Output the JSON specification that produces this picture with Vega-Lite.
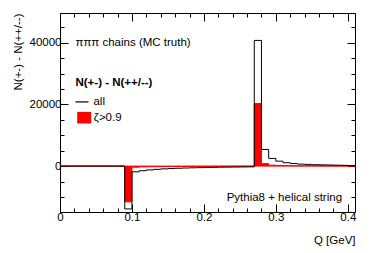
{
  "$schema": "https://vega.github.io/schema/vega-lite/v6.json",
  "width": 295,
  "height": 199,
  "autosize": {"type": "none"},
  "padding": {"left": 60, "top": 13, "right": 19, "bottom": 41},
  "background": "white",
  "config": {
    "view": {"stroke": "black", "strokeWidth": 1},
    "axis": {"grid": false, "domain": false, "tickColor": "black", "tickWidth": 1, "labelFont": "Liberation Sans", "labelFontSize": 11.5, "labelColor": "black", "titleFont": "Liberation Sans", "titleFontSize": 11.5, "titleFontWeight": "normal", "titleColor": "black", "labelOverlap": false, "labelFlush": false},
    "text": {"font": "Liberation Sans", "fontSize": 11.5, "color": "black"}
  },
  "datasets": {
    "hist": [
      {"q": 0.00, "all": 0, "zeta": 0},
      {"q": 0.01, "all": 0, "zeta": 0},
      {"q": 0.02, "all": 0, "zeta": 0},
      {"q": 0.03, "all": 0, "zeta": 0},
      {"q": 0.04, "all": 0, "zeta": 0},
      {"q": 0.05, "all": 0, "zeta": 0},
      {"q": 0.06, "all": 0, "zeta": 0},
      {"q": 0.07, "all": 0, "zeta": 0},
      {"q": 0.08, "all": 0, "zeta": 0},
      {"q": 0.09, "all": -13900, "zeta": -11600},
      {"q": 0.10, "all": -1850, "zeta": -350},
      {"q": 0.11, "all": -1500, "zeta": -250},
      {"q": 0.12, "all": -1250, "zeta": -200},
      {"q": 0.13, "all": -1050, "zeta": -170},
      {"q": 0.14, "all": -900, "zeta": -150},
      {"q": 0.15, "all": -800, "zeta": -130},
      {"q": 0.16, "all": -700, "zeta": -110},
      {"q": 0.17, "all": -620, "zeta": -100},
      {"q": 0.18, "all": -550, "zeta": -90},
      {"q": 0.19, "all": -490, "zeta": -80},
      {"q": 0.20, "all": -440, "zeta": -70},
      {"q": 0.21, "all": -400, "zeta": -60},
      {"q": 0.22, "all": -360, "zeta": -55},
      {"q": 0.23, "all": -330, "zeta": -50},
      {"q": 0.24, "all": -300, "zeta": -45},
      {"q": 0.25, "all": -270, "zeta": -40},
      {"q": 0.26, "all": -250, "zeta": -35},
      {"q": 0.27, "all": 40800, "zeta": 20300},
      {"q": 0.28, "all": 5400, "zeta": 800},
      {"q": 0.29, "all": 2500, "zeta": 300},
      {"q": 0.30, "all": 1600, "zeta": 200},
      {"q": 0.31, "all": 1100, "zeta": 160},
      {"q": 0.32, "all": 850, "zeta": 140},
      {"q": 0.33, "all": 650, "zeta": 120},
      {"q": 0.34, "all": 550, "zeta": 110},
      {"q": 0.35, "all": 450, "zeta": 100},
      {"q": 0.36, "all": 400, "zeta": 90},
      {"q": 0.37, "all": 350, "zeta": 80},
      {"q": 0.38, "all": 300, "zeta": 75},
      {"q": 0.39, "all": 250, "zeta": 70},
      {"q": 0.40, "all": 200, "zeta": 65},
      {"q": 0.41, "all": 200, "zeta": 65}
    ]
  },
  "resolve": {"axis": {"x": "independent", "y": "independent"}},
  "layer": [
    {
      "data": {"name": "hist"},
      "mark": {"type": "area", "interpolate": "step-after", "color": "#ff0000", "stroke": "#ff0000", "strokeWidth": 1, "opacity": 1},
      "encoding": {
        "x": {"field": "q", "type": "quantitative", "scale": {"domain": [0, 0.41], "nice": false, "zero": false},
          "axis": {"orient": "bottom", "values": [0,0.02,0.04,0.06,0.08,0.1,0.12,0.14,0.16,0.18,0.2,0.22,0.24,0.26,0.28,0.3,0.32,0.34,0.36,0.38,0.4],
            "tickSize": {"condition": {"test": "abs(datum.value*10 - round(datum.value*10)) < 0.001", "value": -8}, "value": -4},
            "labelExpr": "abs(datum.value*10 - round(datum.value*10)) < 0.001 ? format(datum.value, '.1~f') : ''",
            "labelPadding": 7.5, "title": "Q [GeV]", "titleAnchor": null, "titleX": 295, "titleY": 28, "titleAlign": "right", "titleBaseline": "middle"}},
        "y": {"field": "zeta", "type": "quantitative", "stack": null, "scale": {"domain": [-14900, 49700], "nice": false, "zero": false},
          "axis": {"orient": "left", "values": [-10000,-5000,0,5000,10000,15000,20000,25000,30000,35000,40000,45000],
            "tickSize": {"condition": {"test": "datum.value % 20000 == 0", "value": -8}, "value": -4},
            "labelExpr": "datum.value % 20000 == 0 ? format(datum.value, 'd') : ''",
            "labelPadding": 7, "title": "N(+-) - N(++/--)", "titleX": -42, "titleY": 0, "titleAngle": -90, "titleAlign": "right", "titleBaseline": "middle"}}
      }
    },
    {
      "data": {"name": "hist"},
      "mark": {"type": "line", "interpolate": "step-after", "color": "black", "strokeWidth": 1},
      "encoding": {
        "x": {"field": "q", "type": "quantitative", "scale": {"domain": [0, 0.41], "nice": false, "zero": false},
          "axis": {"orient": "top", "values": [0,0.02,0.04,0.06,0.08,0.1,0.12,0.14,0.16,0.18,0.2,0.22,0.24,0.26,0.28,0.3,0.32,0.34,0.36,0.38,0.4],
            "tickSize": {"condition": {"test": "abs(datum.value*10 - round(datum.value*10)) < 0.001", "value": -8}, "value": -4},
            "labels": false, "title": null}},
        "y": {"field": "all", "type": "quantitative", "scale": {"domain": [-14900, 49700], "nice": false, "zero": false},
          "axis": {"orient": "right", "values": [-10000,-5000,0,5000,10000,15000,20000,25000,30000,35000,40000,45000],
            "tickSize": {"condition": {"test": "datum.value % 20000 == 0", "value": -8}, "value": -4},
            "labels": false, "title": null}}
      }
    },
    {
      "data": {"values": [
        {"x": 0.0215, "y": 40000, "t": "πππ chains (MC truth)"},
        {"x": 0.0465, "y": 20700, "t": "all"},
        {"x": 0.047, "y": 15500, "t": "ζ>0.9"}
      ]},
      "mark": {"type": "text", "align": "left", "baseline": "middle"},
      "encoding": {
        "x": {"field": "x", "type": "quantitative", "scale": {"domain": [0, 0.41], "nice": false, "zero": false}, "axis": null},
        "y": {"field": "y", "type": "quantitative", "scale": {"domain": [-14900, 49700], "nice": false, "zero": false}, "axis": null},
        "text": {"field": "t"}
      }
    },
    {
      "data": {"values": [{"x": 0.0215, "y": 26900, "t": "N(+-) - N(++/--)"}]},
      "mark": {"type": "text", "align": "left", "baseline": "middle", "fontWeight": "bold"},
      "encoding": {
        "x": {"field": "x", "type": "quantitative", "scale": {"domain": [0, 0.41], "nice": false, "zero": false}, "axis": null},
        "y": {"field": "y", "type": "quantitative", "scale": {"domain": [-14900, 49700], "nice": false, "zero": false}, "axis": null},
        "text": {"field": "t"}
      }
    },
    {
      "data": {"values": [{"x": 0.392, "y": -10400, "t": "Pythia8 + helical string"}]},
      "mark": {"type": "text", "align": "right", "baseline": "middle"},
      "encoding": {
        "x": {"field": "x", "type": "quantitative", "scale": {"domain": [0, 0.41], "nice": false, "zero": false}, "axis": null},
        "y": {"field": "y", "type": "quantitative", "scale": {"domain": [-14900, 49700], "nice": false, "zero": false}, "axis": null},
        "text": {"field": "t"}
      }
    },
    {
      "data": {"values": [{"x": 0.0215, "x2": 0.0396, "y": 20840}]},
      "mark": {"type": "rule", "color": "black", "strokeWidth": 1.2},
      "encoding": {
        "x": {"field": "x", "type": "quantitative", "scale": {"domain": [0, 0.41], "nice": false, "zero": false}, "axis": null},
        "x2": {"field": "x2"},
        "y": {"field": "y", "type": "quantitative", "scale": {"domain": [-14900, 49700], "nice": false, "zero": false}, "axis": null}
      }
    },
    {
      "data": {"values": [{"x": 0.0239, "x2": 0.0433, "y": 17600, "y2": 13840}]},
      "mark": {"type": "rect", "color": "#ff0000"},
      "encoding": {
        "x": {"field": "x", "type": "quantitative", "scale": {"domain": [0, 0.41], "nice": false, "zero": false}, "axis": null},
        "x2": {"field": "x2"},
        "y": {"field": "y", "type": "quantitative", "scale": {"domain": [-14900, 49700], "nice": false, "zero": false}, "axis": null},
        "y2": {"field": "y2"}
      }
    }
  ]
}
